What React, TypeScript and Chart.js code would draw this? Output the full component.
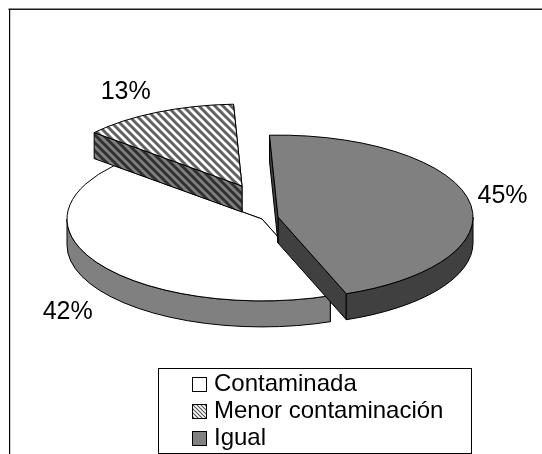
import React, { useEffect, useRef } from "react";
import { Chart, registerables } from "chart.js";

Chart.register(...registerables);

const categories = ["Contaminada", "Menor contaminación", "Igual"];
const shares = [42, 13, 45];

const FONT = '"Liberation Sans", Arial, sans-serif';
const SQUASH = 0.42;
const DEPTH = 26;
const RADIUS = 195;
const ROTATION = 159.5;
const LEGEND_PAD = 3;
const LEGEND_FONT = 24;
// explosion of each slice away from the pie's centre, in pixels
const explodeX = [-9, -29, 7];
const explodeY = [0, -33, -2];
// label distance (fraction of the radius) and extra drop
const labelReach = [1.215, 1.365, 1.175];
const labelDrop = [36, 7, -2];

function stripes(bg: string, fg: string, lw: number) {
  const c = document.createElement("canvas");
  c.width = 8;
  c.height = 8;
  const g = c.getContext("2d")!;
  g.fillStyle = bg;
  g.fillRect(0, 0, 8, 8);
  g.strokeStyle = fg;
  g.lineWidth = lw;
  for (let k = -8; k <= 8; k += 8) {
    g.beginPath();
    g.moveTo(k - 2, -2);
    g.lineTo(k + 10, 10);
    g.stroke();
  }
  return c;
}

function swatch(fill: string, ownPattern?: HTMLCanvasElement) {
  const c = document.createElement("canvas");
  c.width = 15;
  c.height = 15;
  const g = c.getContext("2d")!;
  g.fillStyle = ownPattern ? g.createPattern(ownPattern, "repeat")! : fill;
  g.fillRect(0, 0, 15, 15);
  g.fillStyle = "#000";
  g.fillRect(0, 0, 15, 1);
  g.fillRect(0, 14, 15, 1);
  g.fillRect(0, 0, 1, 15);
  g.fillRect(14, 0, 1, 15);
  return c;
}

export default function App() {
  const ref = useRef<HTMLCanvasElement>(null);
  useEffect(() => {
    document.body.style.margin = "0";
    const canvas = ref.current!;
    const ctx0 = canvas.getContext("2d")!;
    const topStripes = stripes("#ffffff", "#606060", 3);
    const wallStripes = stripes("#808080", "#303030", 3);
    const legendStripes = (() => {
      const c = document.createElement("canvas");
      c.width = 4;
      c.height = 4;
      const g = c.getContext("2d")!;
      g.fillStyle = "#fff";
      g.fillRect(0, 0, 4, 4);
      g.strokeStyle = "#555";
      g.lineWidth = 1.2;
      for (let k = -4; k <= 4; k += 4) {
        g.beginPath();
        g.moveTo(k - 1, -1);
        g.lineTo(k + 5, 5);
        g.stroke();
      }
      return c;
    })();

    const topPattern = ctx0.createPattern(topStripes, "repeat")!;
    topPattern.setTransform(new DOMMatrix().scale(1, 1 / SQUASH));
    const wallPattern = ctx0.createPattern(wallStripes, "repeat")!;

    const topColors: (string | CanvasPattern)[] = ["#ffffff", topPattern, "#808080"];
    const wallColors: (string | CanvasPattern)[] = ["#808080", wallPattern, "#404040"];
    const swatches = [swatch("#ffffff"), swatch("", legendStripes), swatch("#808080")];

    const pie3d = {
      id: "pie3d",
      beforeDraw(chart: any) {
        const c = chart.ctx;
        c.save();
        c.fillStyle = "#ffffff";
        c.fillRect(0, 0, chart.width, chart.height);
        c.fillStyle = "#1a1a1a";
        c.fillRect(8.5, 8.5, chart.width - 8.5, 1.5);
        c.fillStyle = "#000";
        c.fillRect(9, 9, 1.2, chart.height - 9);
        c.strokeStyle = "#000";
        c.lineWidth = 1;
        c.strokeRect(158.5, 368.5, 313, 85);
        c.restore();
      },
      afterLayout(chart: any) {
        const l = chart.legend;
        l.left = 193;
        l.top = 369;
        l.right = 470;
        l.bottom = 520;
      },
      beforeDatasetDraw(chart: any, args: any) {
        const c = chart.ctx;
        const arcs = args.meta.data;
        arcs.forEach((arc: any, i: number) => {
          const { x, y, startAngle: s, endAngle: e, outerRadius: r } = arc;
          const cx = x + explodeX[i];
          const cy = y + explodeY[i];
          const ry = r * SQUASH;
          c.save();
          c.lineWidth = 1;
          c.strokeStyle = "#000";
          c.lineJoin = "round";
          c.fillStyle = wallColors[i];
          // the two cut faces
          [e, s].forEach((a: number) => {
            const px = cx + r * Math.cos(a);
            const py = cy + ry * Math.sin(a);
            c.beginPath();
            c.moveTo(cx, cy);
            c.lineTo(px, py);
            c.lineTo(px, py + DEPTH);
            c.lineTo(cx, cy + DEPTH);
            c.closePath();
            c.fill();
            c.stroke();
          });
          // the rim, only where it faces the viewer
          for (let k = 0; k < 2; k++) {
            const lo = Math.max(s, 2 * Math.PI * k);
            const hi = Math.min(e, Math.PI + 2 * Math.PI * k);
            if (hi <= lo) continue;
            c.beginPath();
            c.ellipse(cx, cy, r, ry, 0, lo, hi);
            c.ellipse(cx, cy + DEPTH, r, ry, 0, hi, lo, true);
            c.closePath();
            c.fill();
            c.stroke();
          }
          c.restore();
          // the top face, drawn by the library's arc element
          c.save();
          c.translate(cx, cy);
          c.scale(1, SQUASH);
          c.translate(-x, -y);
          arc.draw(c, chart.chartArea);
          c.restore();
          c.save();
          c.lineWidth = 1;
          c.strokeStyle = "#000";
          c.beginPath();
          c.moveTo(cx, cy);
          c.ellipse(cx, cy, r, ry, 0, s, e);
          c.closePath();
          c.stroke();
          c.restore();
        });
        return false;
      },
      afterDraw(chart: any) {
        const c = chart.ctx;
        const arcs = chart.getDatasetMeta(0).data;
        c.save();
        c.font = `25px ${FONT}`;
        c.fillStyle = "#000";
        c.textAlign = "center";
        c.textBaseline = "middle";
        arcs.forEach((arc: any, i: number) => {
          const mid = (arc.startAngle + arc.endAngle) / 2;
          const R = arc.outerRadius * labelReach[i];
          const lx = arc.x + explodeX[i] + R * Math.cos(mid);
          const ly = arc.y + explodeY[i] + R * SQUASH * Math.sin(mid) + labelDrop[i];
          c.fillText(`${shares[i]}%`, lx, ly);
        });
        // legend swatches, one per legend row
        const l = chart.legend;
        swatches.forEach((img, i) => {
          const rowMid = l.top + LEGEND_PAD + i * (LEGEND_FONT + LEGEND_PAD) + LEGEND_FONT / 2;
          c.drawImage(img, 192, Math.round(rowMid - 7));
        });
        c.restore();
      },
    };

    const chart = new Chart(canvas, {
      type: "pie",
      data: {
        labels: categories,
        datasets: [
          {
            data: shares,
            backgroundColor: topColors as any,
            hoverBackgroundColor: topColors as any,
            borderWidth: 0,
            radius: RADIUS,
          } as any,
        ],
      },
      options: {
        animation: false,
        responsive: false,
        rotation: ROTATION,
        layout: { padding: { bottom: 16 } },
        plugins: {
          tooltip: { enabled: false },
          legend: {
            display: true,
            position: "chartArea" as any,
            align: "start",
            labels: {
              usePointStyle: true,
              boxWidth: 6,
              boxHeight: 14,
              padding: LEGEND_PAD,
              color: "#000",
              textAlign: "left",
              font: { family: FONT, size: LEGEND_FONT, lineHeight: 1 },
              generateLabels: () =>
                categories.map((text, i) => ({
                  text,
                  index: i,
                  hidden: false,
                  lineWidth: 0,
                  fillStyle: "rgba(0,0,0,0)",
                  strokeStyle: "rgba(0,0,0,0)",
                  fontColor: "#000",
                  pointStyle: false,
                })) as any,
            },
          },
        },
      },
      plugins: [pie3d as any],
    });
    return () => chart.destroy();
  }, []);
  return <canvas ref={ref} width={542} height={454} style={{ display: "block" }} />;
}
